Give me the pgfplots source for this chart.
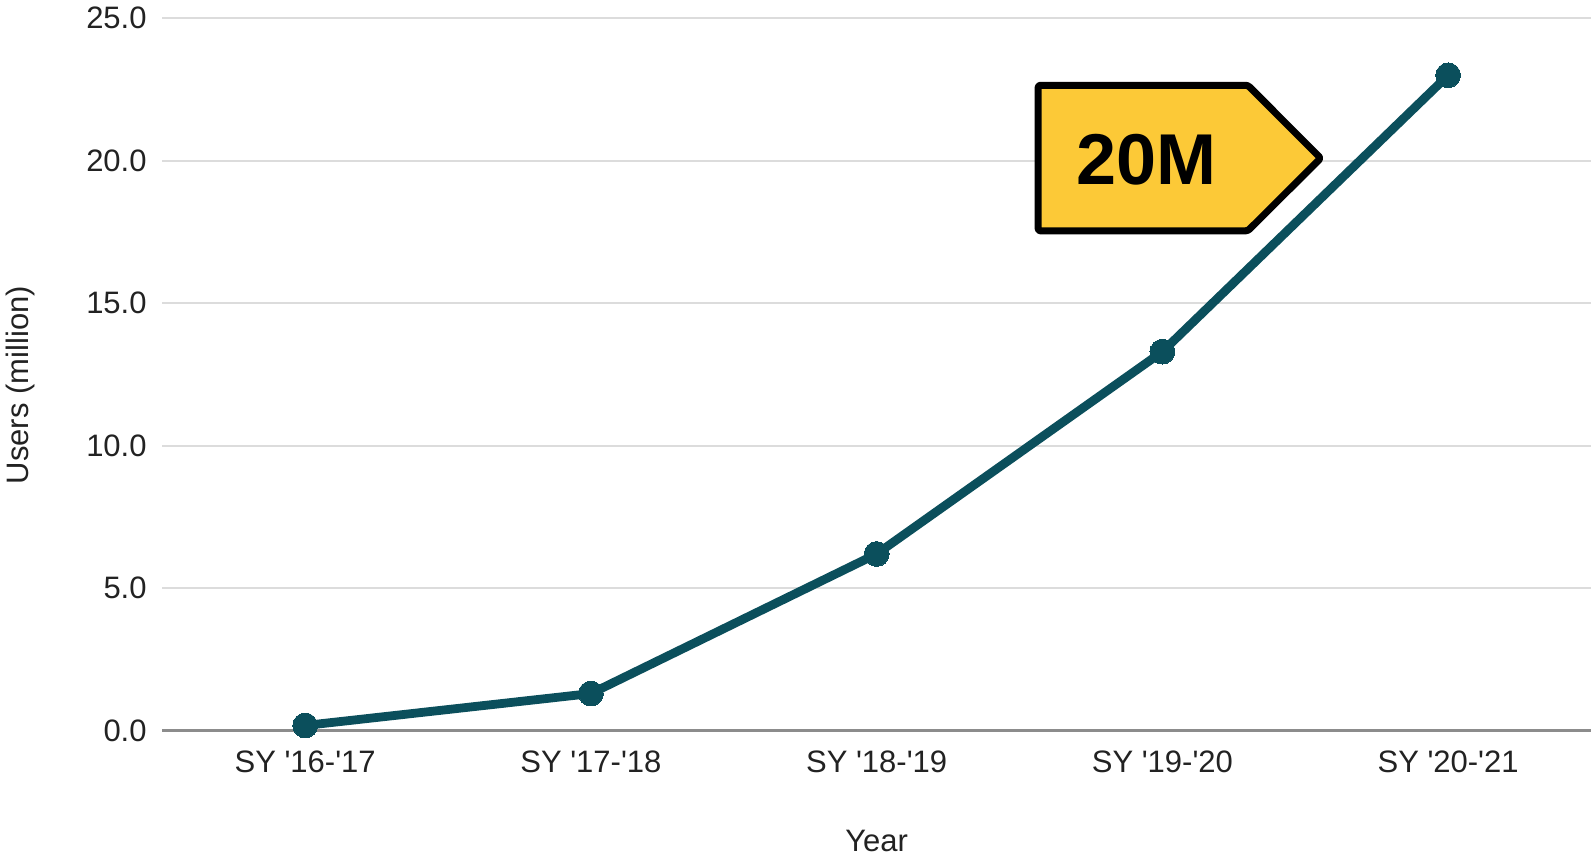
\documentclass[border=0pt]{standalone}
\usepackage{pgfplots}
\pgfplotsset{compat=1.18}
\usepackage{fontspec}
\setmainfont{Liberation Sans}
\definecolor{lineteal}{HTML}{0B4F5C}
\definecolor{gridgray}{HTML}{DCDCDC}
\definecolor{axisgray}{HTML}{8C8C8C}
\definecolor{labelyellow}{HTML}{FCC937}
\definecolor{txt}{HTML}{222222}
\begin{document}
\begin{tikzpicture}
\begin{axis}[
  at={(0,0)}, anchor=south west,
  scale only axis,
  width=714.35bp, height=356.15bp,
  xmin=-0.5, xmax=4.5,
  ymin=0, ymax=25,
  xtick={0,1,2,3,4},
  xticklabels={SY \textquotesingle16-\textquotesingle17, SY \textquotesingle17-\textquotesingle18, SY \textquotesingle18-\textquotesingle19, SY \textquotesingle19-\textquotesingle20, SY \textquotesingle20-\textquotesingle21},
  ytick={0,5,10,15,20,25},
  yticklabel style={/pgf/number format/fixed, /pgf/number format/fixed zerofill, /pgf/number format/precision=1, /pgf/number format/assume math mode=true},
  major tick length=0pt,
  axis x line*=bottom,
  axis y line*=left,
  x axis line style={draw=axisgray, line width=1.5bp, -},
  y axis line style={draw=none, -},
  ymajorgrids,
  grid style={draw=gridgray, line width=1bp},
  tick label style={font=\fontsize{15.5bp}{18bp}\selectfont, text=txt},
  xticklabel style={anchor=base, inner sep=0pt, yshift=-20.7bp},
  yticklabel style={anchor=east, inner sep=0pt, xshift=-7.65bp},
  label style={font=\fontsize{15.5bp}{18bp}\selectfont, text=txt},
  xlabel={Year},
  ylabel={Users (million)},
  xlabel style={at={(rel axis cs:0.5,-0.1553)}, anchor=center},
  ylabel style={at={(rel axis cs:-0.0996,0.485)}, anchor=center},
  clip=false,
]
\addplot[color=lineteal, line width=4.4bp, line join=round, mark=*, mark size=6.2bp,
  mark options={fill=lineteal, draw=lineteal, line width=0pt}]
  coordinates {(0,0.18) (1,1.3) (2,6.2) (3,13.3) (4,23.0)};
\draw[line width=3.5bp, fill=labelyellow, rounded corners=1.2bp, line join=round]
  (axis cs:2.565,22.65) -- (axis cs:3.299,22.65) -- (axis cs:3.554,20.09)
  -- (axis cs:3.299,17.54) -- (axis cs:2.565,17.54) -- cycle;
\node[font=\bfseries\fontsize{36bp}{36bp}\selectfont, text=black, inner sep=0pt, anchor=center]
  at (axis cs:2.944,20.03) {20M};
\end{axis}
\pgfresetboundingbox
\useasboundingbox (-81.15bp,-62.7bp) rectangle (714.35bp,365.3bp);
\end{tikzpicture}
\end{document}
